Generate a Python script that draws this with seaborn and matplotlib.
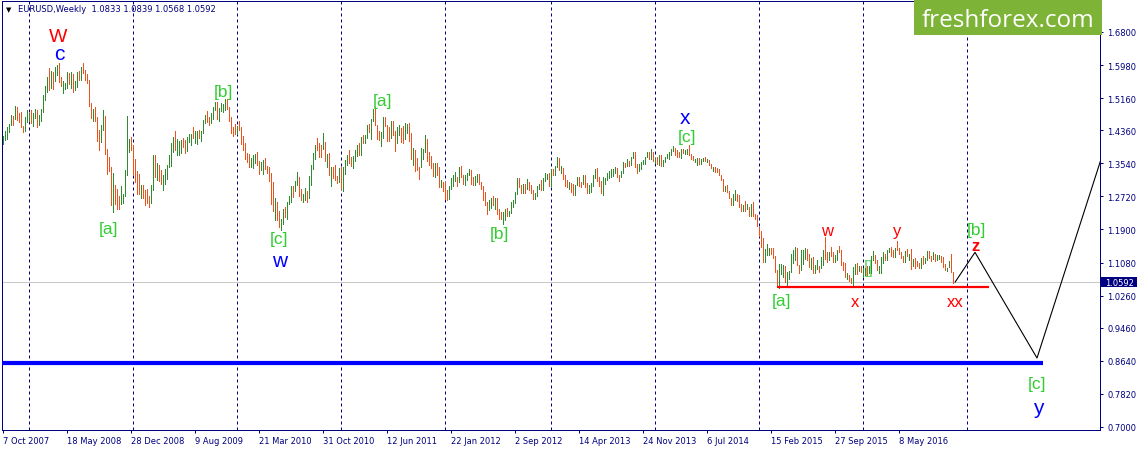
import numpy as np
import pandas as pd
import matplotlib
matplotlib.use("Agg")
import matplotlib.pyplot as plt
import matplotlib.transforms as mtransforms
from matplotlib.patches import Rectangle
import seaborn as sns

# ---------------- data ----------------
symbol = "EURUSD,Weekly"
first_week = "2007-10-07"
first_open = 1.4090
current_ohlc = [1.0833, 1.0839, 1.0568, 1.0592]

h07 = [1.4220,1.4349,1.4439,1.4527,1.4752,1.4720,1.4967,1.4930,1.4800,1.4820,1.4460,1.4690,1.4870]
l07 = [1.4030,1.4130,1.4150,1.4320,1.4490,1.4490,1.4640,1.4610,1.4560,1.4450,1.4310,1.4350,1.4560]
c07 = [1.4195,1.4300,1.4415,1.4500,1.4660,1.4640,1.4900,1.4680,1.4630,1.4440,1.4390,1.4640,1.4750]

h08 = [1.4790,1.4860,1.4800,1.4880, 1.4860,1.4740,1.4880,1.5240, 1.5460,1.5680,1.5905,1.5830,1.5800,
       1.5920,1.5970,1.6019,1.5680, 1.5590,1.5540,1.5800,1.5780, 1.5800,1.5770,1.5580,1.5800,1.5840,
       1.5930,1.6038,1.5850,1.5750, 1.5600,1.5030,1.4900,1.4930,1.4700, 1.4380,1.4500,1.4860,1.4710,
       1.3900,1.3710,1.3450,1.3300, 1.3000,1.2900,1.2720,1.2990,1.2770, 1.3370,1.4720,1.4150,1.4200]
l08 = [1.4600,1.4540,1.4470,1.4660, 1.4440,1.4480,1.4600,1.4820, 1.5110,1.5310,1.5350,1.5400,1.5380,
       1.5580,1.5730,1.5550,1.5450, 1.5280,1.5380,1.5420,1.5500, 1.5410,1.5300,1.5370,1.5440,1.5600,
       1.5620,1.5780,1.5620,1.5530, 1.4960,1.4660,1.4580,1.4580,1.4100, 1.3880,1.4080,1.4370,1.3780,
       1.3270,1.3360,1.2500,1.2330, 1.2520,1.2420,1.2420,1.2520,1.2550, 1.2720,1.3260,1.3830,1.3880]
c08 = [1.4770,1.4630,1.4710,1.4820, 1.4510,1.4620,1.4820,1.5190, 1.5360,1.5660,1.5470,1.5800,1.5790,
       1.5810,1.5880,1.5590,1.5460, 1.5480,1.5510,1.5760,1.5550, 1.5780,1.5350,1.5560,1.5790,1.5660,
       1.5900,1.5820,1.5710,1.5550, 1.5000,1.4680,1.4860,1.4680,1.4250, 1.4190,1.4490,1.4620,1.3800,
       1.3470,1.3420,1.2710,1.2740, 1.2720,1.2610,1.2580,1.2700,1.2710, 1.3300,1.3900,1.4000,1.3980]

h09 = [1.4000,1.3650,1.3340,1.3270, 1.3000,1.3010,1.2880,1.2900, 1.2730,1.3000,1.3740,1.3740,1.3550,
       1.3510,1.3380,1.3250,1.3410, 1.3510,1.3740,1.4050,1.4200,1.4340, 1.4140,1.4100,1.4120,1.4180,
       1.4130,1.4200,1.4270,1.4270, 1.4450,1.4340,1.4350,1.4380,1.4350, 1.4620,1.4740,1.4840,1.4690,
       1.4780,1.4950,1.5060,1.5060, 1.4920,1.5050,1.5010,1.5144,1.5140, 1.4950,1.4700,1.4440,1.4510]
l09 = [1.3280,1.3070,1.2780,1.2770, 1.2680,1.2690,1.2510,1.2560, 1.2460,1.2550,1.2870,1.3210,1.3130,
       1.3110,1.3030,1.2890,1.3040, 1.3140,1.3460,1.3470,1.3810,1.3870, 1.3750,1.3740,1.3790,1.3940,
       1.3800,1.3850,1.4070,1.3990, 1.4170,1.4040,1.4030,1.4170,1.4100, 1.4300,1.4540,1.4560,1.4480,
       1.4540,1.4650,1.4870,1.4650, 1.4600,1.4840,1.4810,1.4860,1.4900, 1.4580,1.4300,1.4220,1.4270]
c09 = [1.3390,1.3250,1.2980,1.2800, 1.2960,1.2870,1.2860,1.2670, 1.2660,1.2930,1.3580,1.3280,1.3490,
       1.3170,1.3030,1.3250,1.3270, 1.3480,1.3520,1.3990,1.4140,1.3940, 1.3950,1.4050,1.4060,1.3970,
       1.3930,1.4150,1.4190,1.4250, 1.4190,1.4200,1.4310,1.4290,1.4340, 1.4560,1.4700,1.4590,1.4580,
       1.4720,1.4900,1.5010,1.4710, 1.4870,1.4890,1.4930,1.5000,1.4870, 1.4610,1.4340,1.4330,1.4320]

h10 = [1.4460,1.4580,1.4450,1.4220,1.4040, 1.3800,1.3780,1.3680,1.3740, 1.3770,1.3830,1.3590,1.3580,
       1.3620,1.3670,1.3480,1.3450, 1.3300,1.3090,1.2670,1.2580,1.2350, 1.2150,1.2400,1.2460,1.2590,
       1.2720,1.2970,1.2990,1.3110, 1.3330,1.3210,1.2900,1.2790,1.2940, 1.2860,1.3220,1.3500,1.3790,
       1.3990,1.4160,1.4050,1.4000,1.4283, 1.4070,1.3780,1.3790,1.3450, 1.3450,1.3500,1.3230,1.3420]
l10 = [1.4260,1.4370,1.4030,1.3860,1.3640, 1.3580,1.3440,1.3440,1.3430, 1.3540,1.3510,1.3270,1.3380,
       1.3280,1.3410,1.3310,1.3110, 1.2520,1.2350,1.2140,1.2140,1.1960, 1.1876,1.2040,1.2200,1.2150,
       1.2520,1.2580,1.2710,1.2860, 1.3000,1.2730,1.2620,1.2590,1.2620, 1.2590,1.2690,1.3010,1.3390,
       1.3650,1.3860,1.3700,1.3700,1.3900, 1.3590,1.3450,1.3250,1.2970, 1.3180,1.3130,1.3060,1.3070]
c10 = [1.4410,1.4380,1.4140,1.3860,1.3660, 1.3630,1.3610,1.3630,1.3630, 1.3770,1.3530,1.3390,1.3520,
       1.3600,1.3500,1.3380,1.3290, 1.2760,1.2360,1.2570,1.2280,1.1970, 1.2110,1.2390,1.2380,1.2570,
       1.2640,1.2930,1.2910,1.3080, 1.3280,1.2750,1.2660,1.2750,1.2900, 1.2710,1.3050,1.3490,1.3780,
       1.3980,1.3970,1.3950,1.3940,1.4030, 1.3670,1.3690,1.3250,1.3420, 1.3290,1.3190,1.3100,1.3380]

h11 = [1.3440,1.3460,1.3620,1.3760,1.3860, 1.3690,1.3720,1.3860,1.4000, 1.4040,1.4200,1.4250,1.4250,
       1.4480,1.4520,1.4640,1.4880, 1.4940,1.4500,1.4350,1.4310,1.4700, 1.4700,1.4490,1.4450,1.4580,
       1.4580,1.4340,1.4450,1.4500,1.4430, 1.4470,1.4540,1.4510,1.4550, 1.4300,1.3920,1.3870,1.3680,
       1.3460,1.3920,1.3900,1.4250,1.4150, 1.3820,1.3720,1.3550,1.3550, 1.3540,1.3440,1.3120,1.3080]
l11 = [1.2900,1.2860,1.3270,1.3510,1.3540, 1.3470,1.3430,1.3590,1.3720, 1.3750,1.3740,1.4050,1.4040,
       1.4160,1.4330,1.4150,1.4580, 1.4480,1.4140,1.4110,1.3970,1.4180, 1.4460,1.4090,1.4100,1.4170,
       1.4250,1.3840,1.4040,1.4240,1.4060, 1.4050,1.4140,1.4290,1.4090, 1.3650,1.3490,1.3360,1.3370,
       1.3150,1.3450,1.3650,1.3830,1.3610, 1.3490,1.3420,1.3230,1.3200, 1.3260,1.2950,1.2950,1.2860]
c11 = [1.2920,1.3380,1.3610,1.3610,1.3590, 1.3510,1.3690,1.3750,1.3990, 1.3900,1.4180,1.4090,1.4230,
       1.4480,1.4420,1.4580,1.4810, 1.4530,1.4170,1.4150,1.4230,1.4640, 1.4500,1.4300,1.4220,1.4520,
       1.4250,1.4150,1.4380,1.4390,1.4290, 1.4230,1.4390,1.4490,1.4210, 1.3650,1.3800,1.3500,1.3390,
       1.3380,1.3880,1.3890,1.4150,1.3790, 1.3750,1.3520,1.3240,1.3450, 1.3380,1.3040,1.3050,1.2960]

h12 = [1.3080,1.2880,1.2990,1.3170,1.3240, 1.3320,1.3210,1.3450,1.3480, 1.3260,1.3250,1.3300,1.3390,
       1.3380,1.3210,1.3220,1.3280,1.3280, 1.3090,1.2970,1.2820,1.2580, 1.2620,1.2670,1.2740,1.2690,
       1.2690,1.2400,1.2330,1.2330,1.2400, 1.2440,1.2350,1.2590,1.2640, 1.2820,1.3170,1.3170,1.3000,1.3040,
       1.3030,1.3140,1.3080,1.3010, 1.2870,1.2800,1.2990,1.3040, 1.3130,1.3170,1.3310,1.3270,1.3300]
l12 = [1.2660,1.2624,1.2660,1.2900,1.2980, 1.3110,1.2970,1.3090,1.3190, 1.3030,1.3000,1.3120,1.3250,
       1.3030,1.3000,1.3000,1.3070,1.3020, 1.2910,1.2640,1.2500,1.2290, 1.2380,1.2430,1.2510,1.2410,
       1.2290,1.2160,1.2160,1.2042,1.2130, 1.2240,1.2240,1.2300,1.2460, 1.2550,1.2770,1.2960,1.2800,1.2800,
       1.2810,1.2900,1.2880,1.2800, 1.2660,1.2660,1.2720,1.2910, 1.2870,1.2880,1.3110,1.3140,1.2990]
c12 = [1.2720,1.2680,1.2930,1.3140,1.3150, 1.3200,1.3150,1.3450,1.3190, 1.3120,1.3160,1.3270,1.3340,
       1.3080,1.3070,1.3220,1.3240,1.3080, 1.2920,1.2780,1.2520,1.2430, 1.2520,1.2640,1.2570,1.2660,
       1.2290,1.2240,1.2160,1.2320,1.2390, 1.2290,1.2330,1.2510,1.2580, 1.2810,1.3130,1.2980,1.2860,1.3040,
       1.2950,1.3020,1.2940,1.2830, 1.2710,1.2740,1.2970,1.2990, 1.2930,1.3170,1.3180,1.3220,1.3070]

h13 = [1.3400,1.3400,1.3480,1.3710, 1.3680,1.3480,1.3420,1.3240, 1.3120,1.3070,1.3050,1.3020,1.3000,
       1.3200,1.3210,1.3080,1.3240, 1.3240,1.3050,1.3000,1.3060, 1.3240,1.3390,1.3420,1.3190,1.3100,
       1.3210,1.3180,1.3300,1.3340, 1.3390,1.3390,1.3450,1.3430, 1.3240,1.3350,1.3570,1.3550,1.3650,
       1.3610,1.3700,1.3830,1.3810, 1.3530,1.3530,1.3570,1.3620, 1.3700,1.3810,1.3810,1.3893,1.3820]
l13 = [1.2990,1.3250,1.3250,1.3450, 1.3370,1.3300,1.3140,1.2970, 1.2960,1.2910,1.2840,1.2750,1.2750,
       1.3000,1.2990,1.2950,1.3030, 1.2950,1.2800,1.2800,1.2840, 1.2980,1.3170,1.3110,1.2990,1.2810,
       1.2760,1.3030,1.3120,1.3170, 1.3210,1.3220,1.3300,1.3190, 1.3100,1.3190,1.3290,1.3450,1.3470,
       1.3480,1.3500,1.3670,1.3440, 1.3300,1.3360,1.3400,1.3530, 1.3530,1.3700,1.3640,1.3660,1.3590]
c13 = [1.3380,1.3300,1.3460,1.3640, 1.3360,1.3360,1.3190,1.3020, 1.3000,1.3080,1.2980,1.2820,1.3000,
       1.3110,1.3050,1.3030,1.3110, 1.2990,1.2830,1.2940,1.2990, 1.3220,1.3350,1.3120,1.3010,1.2830,
       1.3070,1.3140,1.3280,1.3280, 1.3340,1.3340,1.3380,1.3220, 1.3180,1.3300,1.3530,1.3520,1.3550,
       1.3540,1.3690,1.3800,1.3480, 1.3370,1.3500,1.3550,1.3590, 1.3700,1.3740,1.3670,1.3740,1.3590]

h14 = [1.3680,1.3700,1.3740,1.3740, 1.3630,1.3700,1.3770,1.3820, 1.3900,1.3967,1.3930,1.3880,1.3810,
       1.3900,1.3900,1.3860,1.3900, 1.3993,1.3770,1.3730,1.3660, 1.3680,1.3670,1.3650,1.3670,1.3700,
       1.3650,1.3620,1.3530,1.3450, 1.3440,1.3420,1.3400,1.3250,1.3150, 1.2990,1.3000,1.2860,1.2690,
       1.2790,1.2890,1.2770,1.2750, 1.2540,1.2510,1.2600,1.2530,1.2460, 1.2530,1.2570,1.2290,1.2250]
l14 = [1.3550,1.3530,1.3510,1.3480, 1.3480,1.3570,1.3680,1.3650, 1.3740,1.3850,1.3750,1.3700,1.3700,
       1.3670,1.3790,1.3780,1.3780, 1.3760,1.3650,1.3620,1.3580, 1.3500,1.3520,1.3530,1.3590,1.3590,
       1.3580,1.3490,1.3420,1.3360, 1.3330,1.3330,1.3240,1.3130,1.2860, 1.2860,1.2830,1.2680,1.2500,
       1.2500,1.2620,1.2610,1.2460, 1.2360,1.2360,1.2360,1.2400,1.2240, 1.2240,1.2230,1.2160,1.1990]
c14 = [1.3670,1.3540,1.3680,1.3480, 1.3630,1.3690,1.3740,1.3800, 1.3880,1.3910,1.3790,1.3750,1.3700,
       1.3890,1.3810,1.3830,1.3870, 1.3760,1.3700,1.3630,1.3640, 1.3640,1.3540,1.3600,1.3640,1.3590,
       1.3600,1.3520,1.3430,1.3430, 1.3410,1.3400,1.3240,1.3130,1.2950, 1.2960,1.2830,1.2690,1.2520,
       1.2630,1.2760,1.2670,1.2480, 1.2450,1.2530,1.2390,1.2450,1.2290, 1.2460,1.2230,1.2190,1.2000]

h15 = [1.1970,1.1870,1.1680,1.1420, 1.1530,1.1450,1.1450,1.1430, 1.1250,1.0890,1.1040,1.1050,1.1030,
       1.1000,1.0850,1.0880,1.1290, 1.1390,1.1467,1.1440,1.1020,1.1380, 1.1380,1.1440,1.1410,1.1280,
       1.1200,1.1220,1.1010,1.1130, 1.0990,1.1210,1.1390,1.1714,1.1330, 1.1330,1.1460,1.1330,1.1270,
       1.1390,1.1490,1.1390,1.1100, 1.1060,1.0830,1.0770,1.0690,1.0980, 1.1040,1.1060,1.0990,1.0990]
l15 = [1.1750,1.1460,1.1100,1.1100, 1.1260,1.1270,1.1280,1.1180, 1.0840,1.0490,1.0458,1.0800,1.0710,
       1.0600,1.0520,1.0660,1.0840, 1.1070,1.1150,1.1010,1.0820,1.0890, 1.1050,1.1170,1.1130,1.0960,
       1.0920,1.0810,1.0810,1.0920, 1.0850,1.0950,1.1020,1.1170,1.1090, 1.1150,1.1250,1.1100,1.1100,
       1.1140,1.1340,1.1010,1.0900, 1.0710,1.0670,1.0620,1.0560,1.0524, 1.0800,1.0800,1.0860,1.0850]
c15 = [1.1840,1.1560,1.1210,1.1290, 1.1310,1.1390,1.1380,1.1200, 1.0840,1.0490,1.0820,1.0890,1.0970,
       1.0600,1.0810,1.0870,1.1200, 1.1200,1.1450,1.1010,1.0960,1.1110, 1.1270,1.1350,1.1160,1.1110,
       1.1160,1.0830,1.0980,1.0980, 1.0970,1.1100,1.1390,1.1180,1.1150, 1.1330,1.1300,1.1200,1.1210,
       1.1360,1.1350,1.1020,1.1000, 1.0740,1.0770,1.0650,1.0590,1.0880, 1.0990,1.0870,1.0970,1.0860]

h16 = [1.0940,1.0950,1.0990,1.0990,1.1240, 1.1376,1.1260,1.1150,1.1000, 1.1220,1.1340,1.1280,1.1390,
       1.1440,1.1460,1.1400,1.1450, 1.1616,1.1440,1.1350,1.1230,1.1370, 1.1420,1.1300,1.1427,1.1160,
       1.1180,1.1120,1.1060,1.1200,1.1230, 1.1180,1.1360,1.1366,1.1250, 1.1330,1.1290,1.1260,1.1270,
       1.1240,1.1210,1.1040,1.0950,1.1120, 1.1299,1.0839]
l16 = [1.0710,1.0780,1.0780,1.0810,1.0810, 1.1150,1.1070,1.0890,1.0820, 1.0820,1.1060,1.1140,1.1140,
       1.1330,1.1230,1.1220,1.1220, 1.1380,1.1300,1.1180,1.1100,1.1100, 1.1240,1.1130,1.0912,1.0990,
       1.0950,1.1000,1.0950,1.0950,1.1050, 1.1080,1.1150,1.1190,1.1120, 1.1160,1.1120,1.1130,1.1160,
       1.1100,1.0960,1.0900,1.0860,1.0970, 1.0840,1.0568]
c16 = [1.0920,1.0920,1.0800,1.0830,1.1160, 1.1250,1.1130,1.0930,1.1000, 1.1150,1.1270,1.1170,1.1390,
       1.1400,1.1280,1.1230,1.1450, 1.1400,1.1310,1.1220,1.1110,1.1370, 1.1250,1.1280,1.1110,1.1140,
       1.1050,1.1040,1.0980,1.1170,1.1090, 1.1160,1.1320,1.1200,1.1150, 1.1230,1.1160,1.1230,1.1240,
       1.1200,1.0970,1.0890,1.0980,1.1120, 1.0855,1.0592]

x_tick_labels = ["7 Oct 2007", "18 May 2008", "28 Dec 2008", "9 Aug 2009", "21 Mar 2010",
                 "31 Oct 2010", "12 Jun 2011", "22 Jan 2012", "2 Sep 2012", "14 Apr 2013",
                 "24 Nov 2013", "6 Jul 2014", "15 Feb 2015", "27 Sep 2015", "8 May 2016"]
y_ticks = [1.6800, 1.5980, 1.5160, 1.4360, 1.3540, 1.2720, 1.1900, 1.1080,
           1.0260, 0.9460, 0.8640, 0.7820, 0.7000]
separator_years = [2008, 2009, 2010, 2011, 2012, 2013, 2014, 2015, 2016, 2017]

support_price = 1.0475
support_from, support_to = "2015-03-08", "2017-03-19"
target_price = 0.8587
target_to = "2017-09-24"
proj_dates = ["2016-11-20", "2017-01-29", "2017-09-03", "2018-04-15"]
proj_prices = [1.0590, 1.1333, 0.8710, 1.3640]

# wave labels: text, week index, price, colour key, size, weight
wave_labels = [
    ("W",   27.5, 1.6676, "red",   14,   "normal"),
    ("c",   28.0, 1.6254, "blue",  15,   "normal"),
    ("[a]", 53.0, 1.1912, "green", 12.5, "normal"),
    ("[b]", 110.0, 1.5324, "green", 12.5, "normal"),
    ("[c]", 138.0, 1.1664, "green", 12.5, "normal"),
    ("w",   138.5, 1.1130, "blue",  15,   "normal"),
    ("[a]", 189.75, 1.5100, "green", 12.5, "normal"),
    ("[b]", 248.0, 1.1812, "green", 12.5, "normal"),
    ("x",   341.0, 1.4666, "blue",  15,   "normal"),
    ("[c]", 342.0, 1.4219, "green", 12.5, "normal"),
    ("[a]", 389.25, 1.0137, "green", 12.5, "normal"),
    ("w",   412.25, 1.1880, "red",   12,   "normal"),
    ("x",   426.0, 1.0113, "red",   12,   "normal"),
    ("y",   447.25, 1.1880, "red",   12,   "normal"),
    ("[b]", 486.5, 1.1900, "green", 12.5, "normal"),
    ("z",   486.0, 1.1497, "red",   12,   "bold"),
    ("xx",  476.0, 1.0113, "red",   12,   "normal"),
    ("[c]", 517.0, 0.8066, "green", 12.5, "normal"),
    ("y",   517.5, 0.7470, "blue",  15,   "normal"),
]
hidden_label = ("[]", 433.0, 1.0944)

# ---------------- frame ----------------
highs = np.array(h07 + h08 + h09 + h10 + h11 + h12 + h13 + h14 + h15 + h16)
lows = np.array(l07 + l08 + l09 + l10 + l11 + l12 + l13 + l14 + l15 + l16)
closes = np.array(c07 + c08 + c09 + c10 + c11 + c12 + c13 + c14 + c15 + c16)
assert len(highs) == len(lows) == len(closes)

t0 = pd.Timestamp(first_week)
dates = pd.date_range(t0, periods=len(highs), freq="7D")
df = pd.DataFrame({"date": dates, "high": highs, "low": lows, "close": closes})
df["open"] = df["close"].shift(1).fillna(first_open)
df.loc[df.index[-1], "open"] = current_ohlc[0]
df["i"] = np.arange(len(df))
df["up"] = df["close"] >= df["open"]


def week_index(d):
    return (pd.Timestamp(d) - t0).days / 7.0


NAVY = "#000080"
UP = "#2E8B2E"
DOWN = "#F0501A"
COLORS = {"red": "#FF0000", "blue": "#0000FF", "green": "#32CD32"}

sns.set_theme(style="white")
plt.rcParams["font.family"] = ["DejaVu Sans"]
plt.rcParams["axes.linewidth"] = 0.72

W_PX, H_PX = 1139, 452
fig = plt.figure(figsize=(W_PX / 100, H_PX / 100), dpi=100)
fig.patch.set_facecolor("white")
ax = fig.add_axes([2 / W_PX, 1 - 431 / H_PX, 1097.5 / W_PX, 429 / H_PX])
ax.set_facecolor("white")

# current price line
ax.axhline(current_ohlc[3], color="#C8C8C8", lw=0.72, zorder=1)

# year separators
for yr in separator_years:
    ix = int(np.ceil(week_index(f"{yr}-01-01")))
    ax.axvline(ix, color=NAVY, lw=0.72, ls=(0, (3, 3)), zorder=1)

# partly hidden label under the bars
ax.text(hidden_label[1], hidden_label[2], hidden_label[0], color=COLORS["green"],
        fontsize=13, family="Liberation Sans", ha="center", va="center", zorder=1.5, alpha=0.8)

# OHLC bars (1 px high-low lines)
up = df[df["up"]]
dn = df[~df["up"]]
ax.vlines(up["i"], up["low"], up["high"], colors=UP, lw=0.5, antialiased=False, zorder=2)
ax.vlines(dn["i"], dn["low"], dn["high"], colors=DOWN, lw=0.5, antialiased=False, zorder=2)

# support (red) and target (blue) levels
ax.hlines(support_price, week_index(support_from), week_index(support_to),
          colors="#FF0000", lw=1.6, zorder=3)
ax.hlines(target_price, -0.5, week_index(target_to), colors="#0000FF", lw=3.0, zorder=3)

# projection path
proj = pd.DataFrame({"i": [week_index(d) for d in proj_dates], "p": proj_prices})
sns.lineplot(data=proj, x="i", y="p", sort=False, color="black", lw=0.8, ax=ax, zorder=4)

# wave labels
for txt, xi, pr, ck, fs, fw in wave_labels:
    ax.text(xi, pr, txt, color=COLORS[ck], fontsize=fs, fontweight=fw,
            family="Liberation Sans", ha="center", va="center", zorder=5)

# axes limits and ticks
ax.set_xlim(-0.5, 548.25)
ax.set_ylim(0.6924, 1.7569)
ax.set_xlabel("")
ax.set_ylabel("")

tick_pos = [week_index(pd.to_datetime(s, format="%d %b %Y")) for s in x_tick_labels]
ax.set_xticks(tick_pos)
ax.set_xticklabels(x_tick_labels, ha="left")
ax.yaxis.tick_right()
ax.set_yticks(y_ticks)
ax.set_yticklabels([f"{v:.4f}" for v in y_ticks])
ax.tick_params(axis="x", direction="out", length=2.5, width=0.72, colors=NAVY,
               labelsize=6, pad=1.5, bottom=True)
ax.tick_params(axis="y", direction="out", length=2.5, width=0.72, colors=NAVY,
               labelsize=6, pad=3, right=True, left=False)
for s in ax.spines.values():
    s.set_visible(True)
    s.set_color(NAVY)
    s.set_linewidth(0.72)
ax.grid(False)

# current price box on the right scale
trans = mtransforms.blended_transform_factory(ax.transAxes, ax.transData)
box_h = 10 * (ax.get_ylim()[1] - ax.get_ylim()[0]) / 429
ax.add_patch(Rectangle((1.0013, current_ohlc[3] - box_h / 2), 36 / 1097.5, box_h,
                       transform=trans, fc=NAVY, ec="none", clip_on=False, zorder=6))
ax.text(1.0013 + 4.5 / 1097.5, current_ohlc[3], f"{current_ohlc[3]:.4f}", transform=trans,
        color="white", fontsize=6, ha="left", va="center", clip_on=False, zorder=7)

# header
fig.text(6 / W_PX, 1 - 10 / H_PX, "\u25BC", fontsize=5, color="black", va="center")
fig.text(18 / W_PX, 1 - 10 / H_PX,
         f"{symbol}  " + " ".join(f"{v:.4f}" for v in current_ohlc),
         fontsize=6, color=NAVY, va="center", ha="left")

# logo
fig.patches.append(Rectangle((914 / W_PX, 1 - 36 / H_PX), 188 / W_PX, 35 / H_PX,
                             transform=fig.transFigure, fc="#7DB336", ec="none", zorder=10))
fig.text(1008 / W_PX, 1 - 27 / H_PX, "freshforex.com", family="Open Sans",
         fontsize=17.5, color="white", ha="center", va="baseline", zorder=11)

fig.savefig("out.png", dpi=100, facecolor="white")
